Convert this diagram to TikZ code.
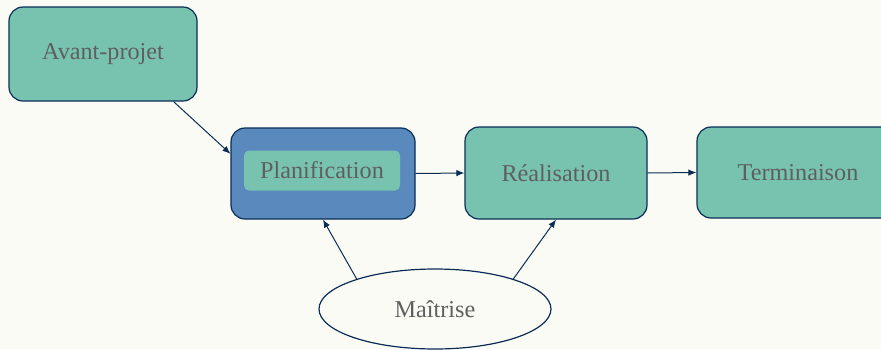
\documentclass[tikz,border=0pt]{standalone}
\usepackage{fontspec}
\setmainfont{Liberation Serif}
\usetikzlibrary{arrows.meta,shapes.geometric}
\definecolor{bgc}{HTML}{FBFBF5}
\definecolor{tealc}{HTML}{78C2B0}
\definecolor{bluec}{HTML}{5A8ABD}
\definecolor{edgec}{HTML}{0B2D55}
\definecolor{txtc}{HTML}{5F5F5F}
\begin{document}
\begin{tikzpicture}[x=1pt,y=-1pt,
  box/.style={draw=edgec,line width=1.2pt,fill=tealc,rounded corners=14pt,inner sep=0pt,
    text=txtc,font=\fontsize{24.2}{28}\selectfont},
  arr/.style={draw=edgec,line width=1pt,-{Latex[length=8pt,width=6.5pt]}}]
\useasboundingbox (0,0) rectangle (881,349);
\clip (0,0) rectangle (881,349);
\fill[bgc] (0,0) rectangle (881,349);
\node[box,minimum width=188pt,minimum height=94pt] (avant) at (103,54) {Avant-projet};
\node[box,fill=bluec,minimum width=184pt,minimum height=91pt] (plan) at (323,173.5) {};
\node[fill=tealc,rounded corners=5pt,minimum width=156pt,minimum height=40pt,inner sep=0pt,
  text=txtc,font=\fontsize{24.2}{28}\selectfont] (planin) at (322,170.5) {Planification};
\node[box,minimum width=182pt,minimum height=92pt] (real) at (556,173) {Réalisation};
\node[box,minimum width=202pt,minimum height=91pt] (term) at (798,172.5) {Terminaison};
\node[ellipse,draw=edgec,line width=1.2pt,fill=bgc,minimum width=232pt,minimum height=80pt,
  inner sep=0pt,text=txtc,font=\fontsize{24.2}{28}\selectfont] (mait) at (435,309) {Maîtrise};
\draw[arr] (avant.-34) -- (plan.168);
\draw[arr] (plan.east) -- (real.west);
\draw[arr] (real.east) -- (term.west);
\draw[arr] (mait.159) -- (plan.south);
\draw[arr] (mait.21) -- (real.south);
\end{tikzpicture}
\end{document}
